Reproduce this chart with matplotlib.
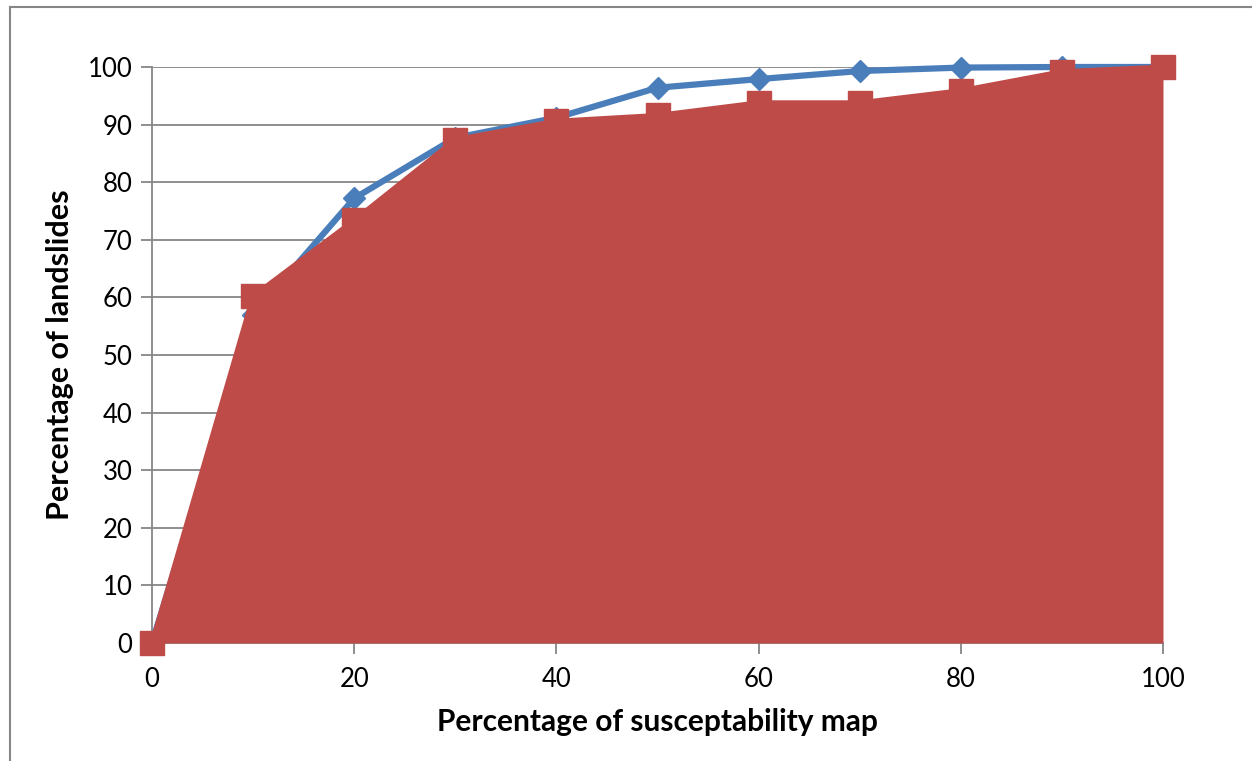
import matplotlib
matplotlib.use("Agg")
import matplotlib.pyplot as plt
from matplotlib.lines import Line2D

x_vals = [0, 10, 20, 30, 40, 50, 60, 70, 80, 90, 100]
blue_vals = [0, 57.0, 77.2, 87.7, 91.2, 96.4, 97.9, 99.3, 99.9, 100, 100]
red_vals = [0, 60.2, 73.4, 87.4, 90.6, 91.6, 93.8, 93.8, 95.9, 99.2, 100]
x_ticks = [0, 20, 40, 60, 80, 100]
y_ticks = [0, 10, 20, 30, 40, 50, 60, 70, 80, 90, 100]

plt.rcParams['font.family'] = ['Lato', 'DejaVu Sans']

W, H = 1252, 761
fig = plt.figure(figsize=(W / 100, H / 100), dpi=100)
ax = fig.add_axes([152 / W, 1 - 643 / H, (1163 - 152) / W, (643 - 67) / H])

grid_c = '#868686'
blue = '#4a7ebb'
red = '#be4b48'

ax.set_xlim(0, 100)
ax.set_ylim(0, 100)
ax.set_yticks(y_ticks)
ax.set_xticks(x_ticks)
ax.yaxis.grid(True, color=grid_c, linewidth=1.3)
ax.set_axisbelow(True)

ax.plot(x_vals, blue_vals, color=blue, linewidth=4.5, marker='D', markersize=11,
        zorder=3, clip_on=False)
ax.fill_between(x_vals, red_vals, 0, color=red, linewidth=0, zorder=4, clip_on=False)
ax.plot(x_vals, red_vals, color=red, linewidth=3.5, marker='s', markersize=17,
        zorder=5, clip_on=False)

for s in ['top', 'right']:
    ax.spines[s].set_visible(False)
for s in ['left', 'bottom']:
    ax.spines[s].set_color(grid_c)
    ax.spines[s].set_linewidth(1.3)
    ax.spines[s].set_zorder(2)

ax.tick_params(axis='both', colors=grid_c, length=8, width=1.3, direction='out',
               labelsize=18.5, labelcolor='black')
ax.tick_params(axis='y', pad=6)
ax.tick_params(axis='x', pad=9)

ax.set_xlabel('Percentage of susceptability map', fontsize=21.5, fontweight='bold', labelpad=12)
ax.set_ylabel('Percentage of landslides', fontsize=22, fontweight='bold', labelpad=10)

# outer chart border (top and left edges visible)
fig.add_artist(Line2D([10 / W, 10 / W], [0, 1 - 7 / H], transform=fig.transFigure,
                      color=grid_c, linewidth=1.5))
fig.add_artist(Line2D([10 / W, 1], [1 - 7 / H, 1 - 7 / H], transform=fig.transFigure,
                      color=grid_c, linewidth=1.5))

fig.savefig('out.png', dpi=100)
